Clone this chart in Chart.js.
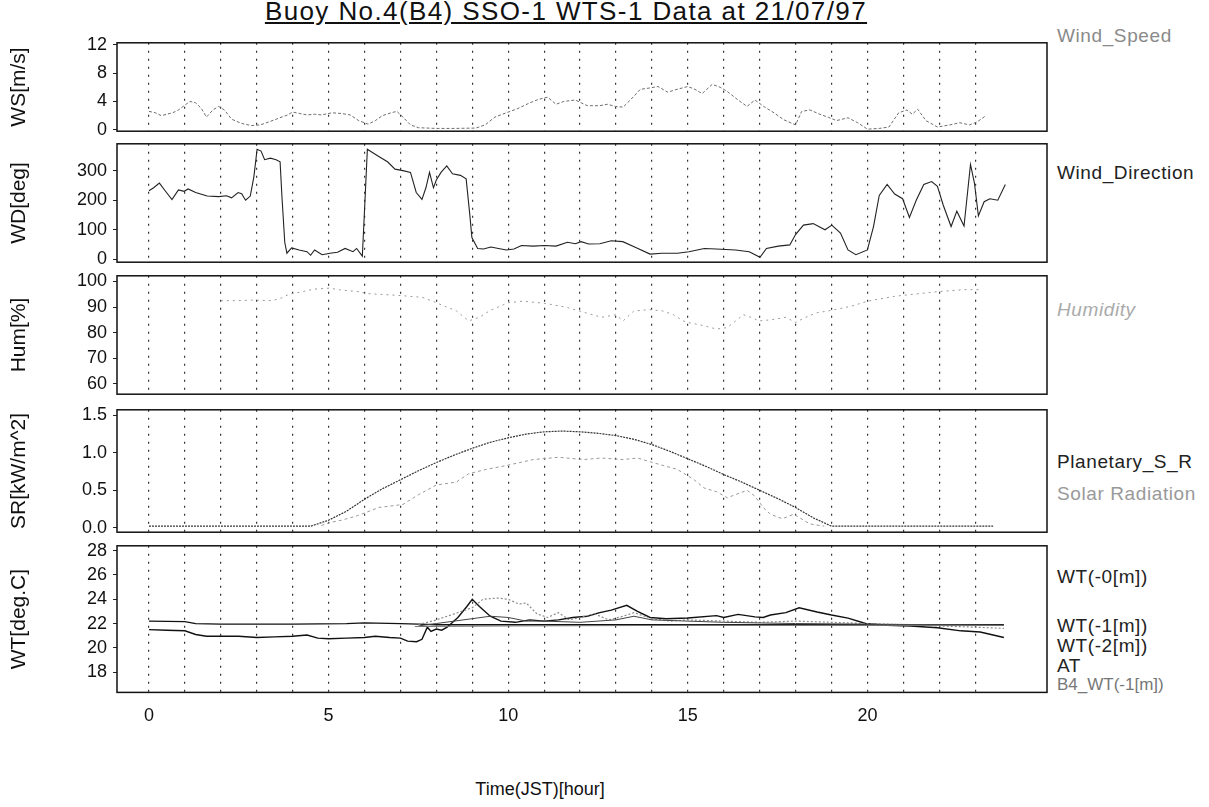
<!DOCTYPE html>
<html lang="en">
<head>
    <meta charset="UTF-8">
    <title>Buoy No.4(B4) SSO-1 WTS-1 Data at 21/07/97</title>
    <script src="https://cdn.jsdelivr.net/npm/chart.js"></script>
    <style>
        body {
            margin: 0;
            background: #fff;
            font-family: 'Liberation Sans', Arial, sans-serif;
        }

        .page {
            position: relative;
            width: 1209px;
            height: 807px;
            overflow: hidden;
        }

        .page canvas {
            position: absolute;
            left: 0;
        }

        /* Title + axis caption */
        .title {
            position: absolute;
            left: 0;
            top: -4px;
            width: 1132px;
            text-align: center;
            font-size: 26px;
            letter-spacing: 1.4px;
            text-decoration: underline;
            color: #111;
        }

        .xtitle {
            position: absolute;
            left: 440px;
            width: 200px;
            top: 779px;
            text-align: center;
            font-size: 18px;
            color: #111;
        }

        /* Series names at the right of each panel */
        .side {
            position: absolute;
            left: 1057px;
            font-size: 19px;
            letter-spacing: 0.6px;
            line-height: 22px;
            color: #222;
            white-space: nowrap;
        }
    </style>
</head>

<body>
<div class="page" id="page">
    <div class="title">Buoy No.4(B4) SSO-1 WTS-1 Data at 21/07/97</div>

    <div class="side" style="top:25px; color:#8a8a8a;">Wind_Speed</div>
    <div class="side" style="top:162px;">Wind_Direction</div>
    <div class="side" style="top:299px; color:#aaa; font-style:italic;">Humidity</div>
    <div class="side" style="top:451px;">Planetary_S_R</div>
    <div class="side" style="top:483px; color:#999;">Solar Radiation</div>
    <div class="side" style="top:566px;">WT(-0[m])</div>
    <div class="side" style="top:615px;">WT(-1[m])</div>
    <div class="side" style="top:635px;">WT(-2[m])</div>
    <div class="side" style="top:655px;">AT</div>
    <div class="side" style="top:674px; color:#777; font-size:17px; letter-spacing:0;">B4_WT(-1[m])</div>

    <div class="xtitle">Time(JST)[hour]</div>
</div>

<script>
    // Shared time axis
    const hourTicks = [0, 1, 2, 3, 4, 5, 6, 7, 8, 9, 10, 11, 12, 13, 14, 15, 16, 17, 18, 19, 20, 21, 22, 23];
    const xLabels = [0, 5, 10, 15, 20];

    // Wind speed [m/s]
    const wsHours = [0, 0.18, 0.34, 0.5, 0.66, 0.82, 0.98, 1.14, 1.3, 1.46, 1.6, 1.78, 1.94, 2.1, 2.3, 2.58, 2.85, 3.1, 3.33, 3.54, 3.86, 4.0, 4.2, 4.4, 4.6, 4.8, 5.1, 5.36, 5.6, 5.84, 6.1, 6.3, 6.5, 6.74, 6.9, 7.07, 7.28, 7.5, 8.0, 8.5, 9.1, 9.36, 9.63, 9.95, 10.27, 10.6, 10.85, 11.1, 11.33, 11.55, 11.87, 12.2, 12.55, 12.76, 12.98, 13.2, 13.4, 13.68, 13.95, 14.17, 14.44, 14.7, 15.0, 15.2, 15.4, 15.68, 15.9, 16.1, 16.4, 16.65, 16.87, 17.14, 17.4, 17.68, 18.0, 18.17, 18.4, 18.65, 18.92, 19.14, 19.46, 19.73, 20.0, 20.33, 20.6, 20.87, 21.1, 21.25, 21.4, 21.63, 21.95, 22.3, 22.57, 22.84, 23.05, 23.3];
    const wsValues = [2.6, 2.4, 2.0, 2.2, 2.4, 2.8, 3.4, 4.0, 3.8, 3.0, 1.8, 2.8, 3.3, 2.8, 1.5, 0.9, 0.6, 0.7, 1.1, 1.5, 2.1, 2.5, 2.3, 2.1, 2.2, 2.1, 2.4, 2.3, 2.1, 1.3, 0.8, 1.3, 2.0, 2.4, 2.6, 1.8, 0.7, 0.3, 0.2, 0.2, 0.25, 0.7, 1.8, 2.4, 3.0, 3.8, 4.3, 4.6, 3.6, 4.0, 4.2, 3.4, 3.4, 3.6, 3.3, 3.2, 4.2, 5.7, 5.9, 6.1, 5.3, 5.7, 6.1, 5.7, 5.1, 6.4, 6.0, 5.4, 4.2, 3.3, 4.2, 3.2, 2.4, 1.4, 0.7, 2.6, 2.8, 2.25, 1.75, 1.3, 1.7, 1.0, 0.1, 0.2, 0.4, 2.4, 2.8, 2.2, 2.9, 1.3, 0.4, 0.7, 1.0, 0.7, 1.1, 2.0];

    // Wind direction [deg]
    const wdHours = [0, 0.13, 0.29, 0.45, 0.64, 0.82, 0.98, 1.09, 1.3, 1.62, 1.94, 2.16, 2.3, 2.48, 2.58, 2.69, 2.82, 2.92, 3.01, 3.12, 3.22, 3.38, 3.54, 3.65, 3.7, 3.78, 3.84, 3.97, 4.18, 4.4, 4.5, 4.61, 4.82, 5.04, 5.25, 5.46, 5.68, 5.78, 5.94, 6.02, 6.08, 6.21, 6.42, 6.64, 6.85, 7.07, 7.28, 7.44, 7.6, 7.71, 7.81, 7.92, 8.0, 8.13, 8.29, 8.45, 8.67, 8.83, 8.93, 8.99, 9.15, 9.31, 9.52, 9.73, 9.95, 10.16, 10.37, 10.69, 11.01, 11.33, 11.65, 11.87, 12.03, 12.24, 12.55, 12.87, 13.19, 13.52, 13.95, 14.28, 14.71, 15.03, 15.46, 15.79, 16.33, 16.71, 17.01, 17.19, 17.52, 17.84, 18.0, 18.22, 18.49, 18.82, 19.01, 19.25, 19.46, 19.68, 20.0, 20.17, 20.33, 20.55, 20.76, 20.98, 21.17, 21.36, 21.57, 21.79, 21.95, 22.11, 22.33, 22.49, 22.69, 22.87, 22.98, 23.09, 23.25, 23.41, 23.63, 23.84];
    const wdValues = [232, 242, 258, 232, 202, 235, 230, 238, 226, 214, 212, 215, 208, 226, 222, 200, 214, 279, 372, 366, 337, 342, 337, 330, 216, 58, 21, 39, 32, 26, 14, 32, 16, 21, 24, 37, 26, 37, 11, 216, 372, 362, 346, 330, 305, 300, 294, 226, 203, 242, 294, 242, 268, 294, 316, 289, 284, 272, 153, 74, 37, 35, 42, 37, 32, 35, 47, 45, 47, 45, 58, 53, 60, 52, 53, 63, 60, 42, 18, 21, 21, 26, 37, 35, 32, 26, 7, 37, 45, 49, 84, 116, 121, 100, 116, 89, 32, 16, 32, 111, 216, 253, 221, 205, 142, 200, 253, 263, 247, 184, 111, 163, 113, 321, 258, 147, 195, 205, 200, 253];

    // Humidity [%]
    const humHours = [2.0, 2.5, 2.85, 3.44, 3.7, 3.9, 4.1, 4.6, 5.04, 5.25, 5.84, 6.05, 6.4, 7.0, 7.6, 7.9, 8.2, 8.56, 8.9, 9.2, 9.5, 10.0, 10.4, 11.0, 11.6, 12.1, 12.6, 13.0, 13.2, 13.5, 13.95, 14.3, 14.6, 14.87, 15.0, 15.46, 15.8, 16.1, 16.55, 16.76, 16.98, 17.3, 17.73, 18.0, 18.28, 18.6, 18.92, 19.57, 20.0, 20.76, 21.2, 21.95, 22.7, 23.2];
    const humValues = [92.5, 92.5, 92.7, 92.5, 93.6, 95, 95.5, 97, 97.4, 96.8, 96, 95.3, 95, 94.5, 93.8, 92.3, 90.5, 88.5, 84.6, 86, 88.7, 91.7, 92.3, 91.5, 90, 88, 86, 87, 84.6, 88.5, 89, 88.5, 87, 84.6, 84, 82.7, 81.4, 82, 87, 86, 84.6, 85, 86, 84, 86, 87.8, 88.5, 90.4, 92.3, 94.2, 94.9, 96, 96.8, 96.8];

    // Planetary solar radiation and measured solar radiation [kW/m^2]
    const psrHours = [0, 4.5, 5.0, 5.5, 6.0, 6.5, 7.0, 7.5, 8.0, 8.5, 9.0, 9.5, 10.0, 10.5, 11.0, 11.5, 12.0, 12.5, 13.0, 13.5, 14.0, 14.5, 15.0, 15.5, 16.0, 16.5, 17.0, 17.5, 18.0, 18.5, 19.0, 23.5];
    const psrValues = [0.02, 0.02, 0.1, 0.22, 0.38, 0.52, 0.64, 0.76, 0.87, 0.97, 1.06, 1.14, 1.2, 1.25, 1.28, 1.29, 1.28, 1.26, 1.23, 1.18, 1.11, 1.02, 0.92, 0.82, 0.71, 0.61, 0.5, 0.39, 0.27, 0.13, 0.02, 0.02];
    const srHours = [4.8, 5.04, 5.36, 5.8, 6.4, 7.07, 7.5, 8.0, 8.56, 8.9, 9.4, 9.95, 10.7, 11.4, 12.1, 12.6, 13.2, 13.6, 14.17, 14.7, 15.15, 15.46, 15.8, 16.1, 16.65, 16.87, 17.1, 17.3, 17.63, 17.95, 18.4, 18.8];
    const srValues = [0.03, 0.07, 0.1, 0.16, 0.27, 0.31, 0.44, 0.57, 0.61, 0.72, 0.78, 0.83, 0.91, 0.94, 0.91, 0.93, 0.91, 0.93, 0.85, 0.78, 0.65, 0.53, 0.48, 0.4, 0.5, 0.42, 0.27, 0.18, 0.12, 0.18, 0.05, 0.02];

    // Water / air temperature [deg.C]
    const atHours = [0, 0.5, 1.0, 1.3, 1.6, 2.0, 2.5, 3.0, 3.5, 4.0, 4.4, 4.7, 5.0, 5.5, 6.0, 6.3, 6.7, 7.0, 7.2, 7.45, 7.6, 7.75, 7.85, 8.0, 8.15, 8.3, 8.6, 8.85, 9.0, 9.2, 9.5, 9.8, 10.2, 10.6, 11.0, 11.4, 11.8, 12.2, 12.55, 12.87, 13.3, 13.6, 13.95, 14.4, 15.0, 15.8, 16.0, 16.4, 16.87, 17.1, 17.3, 17.73, 18.1, 18.6, 19.0, 19.46, 19.95, 20.55, 21.2, 21.95, 22.6, 23.14, 23.8];
    const atValues = [21.5, 21.45, 21.4, 21.1, 20.95, 20.95, 20.95, 20.85, 20.9, 20.95, 21.05, 20.8, 20.75, 20.8, 20.85, 20.95, 20.85, 20.8, 20.55, 20.5, 20.7, 21.7, 21.35, 21.55, 21.45, 21.7, 22.5, 23.4, 24.0, 23.4, 22.6, 22.2, 22.1, 22.3, 22.2, 22.3, 22.5, 22.6, 22.9, 23.1, 23.5, 23.0, 22.5, 22.4, 22.45, 22.65, 22.5, 22.75, 22.55, 22.5, 22.7, 22.9, 23.3, 22.95, 22.7, 22.45, 22.0, 21.85, 21.8, 21.65, 21.4, 21.3, 20.85];
    const wt1Hours = [0, 1.0, 1.3, 2.0, 4.0, 5.5, 6.0, 7.0, 7.5, 8.0, 12.0, 16.0, 20.0, 23.8];
    const wt1Values = [22.2, 22.15, 22.0, 21.95, 21.95, 22.0, 22.05, 22.0, 21.95, 21.9, 21.9, 21.9, 21.9, 21.9];
    const wt0Hours = [7.5, 8.0, 8.5, 9.0, 9.3, 9.7, 10.0, 10.3, 10.5, 10.8, 11.1, 11.4, 11.7, 12.0, 12.4, 12.8, 13.2, 13.5, 14.0, 14.5, 15.0, 16.0, 17.0, 18.0, 19.0, 20.0, 21.0, 22.0, 23.0, 23.8];
    const wt0Values = [21.9, 22.3, 22.8, 23.3, 24.0, 24.1, 24.0, 23.6, 23.7, 22.8, 22.5, 22.9, 22.3, 22.5, 22.8, 22.3, 22.6, 22.9, 22.4, 22.2, 22.3, 22.2, 22.1, 22.2, 22.1, 22.0, 21.9, 21.8, 21.7, 21.6];
    const wt2Hours = [7.5, 8.0, 8.5, 9.0, 9.5, 10.0, 10.5, 11.0, 12.0, 13.0, 13.5, 14.0, 15.0, 16.0, 18.0, 20.0, 22.0, 23.8];
    const wt2Values = [21.8, 22.0, 22.2, 22.4, 22.6, 22.5, 22.2, 22.2, 22.1, 22.3, 22.6, 22.3, 22.2, 22.1, 22.0, 21.95, 21.9, 21.85];
    const b4Hours = [7.4, 10.0, 15.0, 20.0, 23.8];
    const b4Values = [21.75, 21.8, 21.85, 21.85, 21.85];

    const pts = (xs, ys) => xs.map((x, i) => ({ x: x, y: ys[i] }));

    // Box around every panel
    const frame = {
        id: 'frame',
        afterDatasetsDraw(chart) {
            const { ctx, chartArea: a } = chart;
            ctx.save();
            ctx.setLineDash([]);
            ctx.strokeStyle = '#111';
            ctx.lineWidth = 1.5;
            ctx.strokeRect(a.left, a.top, a.right - a.left, a.bottom - a.top);
            ctx.restore();
        }
    };

    const page = document.getElementById('page');
    const FAMILY = "'Liberation Sans', Arial, sans-serif";
    const TICK_FONT = { family: FAMILY, size: 18 };
    const TITLE_FONT = { family: FAMILY, size: 21 };

    function makePanel(cfg) {
        const pad = 12;
        const extra = cfg.showX ? 47 : 0;   // room for the hour labels on the last panel
        const canvas = document.createElement('canvas');
        canvas.width = 1209;
        canvas.height = cfg.bottom - cfg.top + 2 * pad + extra;
        canvas.style.top = (cfg.top - pad) + 'px';
        page.appendChild(canvas);

        return new Chart(canvas, {
            type: 'line',
            data: { datasets: cfg.datasets },
            options: {
                responsive: false,
                animation: false,
                devicePixelRatio: 1,
                layout: { padding: { left: 0, right: 162, top: pad, bottom: pad } },
                plugins: { legend: { display: false }, tooltip: { enabled: false } },
                elements: { point: { radius: 0 }, line: { tension: 0, fill: false } },
                scales: {
                    x: {
                        type: 'linear',
                        min: -0.89,
                        max: 25.0,
                        afterBuildTicks: s => { s.ticks = hourTicks.map(v => ({ value: v })); },
                        grid: { color: '#333', lineWidth: 1.2, drawTicks: false },
                        border: { display: false, dash: [2, 6] },
                        ticks: {
                            display: !!cfg.showX,
                            padding: 13,
                            autoSkip: false,
                            maxRotation: 0,
                            color: '#111',
                            font: TICK_FONT,
                            callback: v => xLabels.includes(v) ? String(v) : ''
                        }
                    },
                    y: {
                        min: cfg.min,
                        max: cfg.max,
                        afterBuildTicks: s => { s.ticks = cfg.ticks.map(v => ({ value: v })); },
                        afterFit: s => { s.width = 117; },
                        grid: { drawOnChartArea: false, tickLength: 4, color: '#222' },
                        border: { display: false },
                        ticks: {
                            padding: 6,
                            color: '#111',
                            font: TICK_FONT,
                            callback: cfg.fmt || (v => String(v))
                        },
                        title: {
                            display: true,
                            text: cfg.label,
                            color: '#111',
                            font: TITLE_FONT,
                            padding: { top: 7, bottom: 0 }
                        }
                    }
                }
            },
            plugins: [frame]
        });
    }

    // Panel 1: wind speed
    makePanel({
        top: 38, bottom: 136, min: -0.19, max: 12.25,
        ticks: [0, 4, 8, 12], label: 'WS[m/s]',
        datasets: [
            { data: pts(wsHours, wsValues), borderColor: '#6e6e6e', borderWidth: 1, borderDash: [3, 2] }
        ]
    });

    // Panel 2: wind direction
    makePanel({
        top: 139, bottom: 267, min: -9.4, max: 390.6,
        ticks: [0, 100, 200, 300], label: 'WD[deg]',
        datasets: [
            { data: pts(wdHours, wdValues), borderColor: '#222', borderWidth: 1.1 }
        ]
    });

    // Panel 3: humidity
    makePanel({
        top: 271, bottom: 399, min: 56.0, max: 102.2,
        ticks: [60, 70, 80, 90, 100], label: 'Hum[%]',
        datasets: [
            { data: pts(humHours, humValues), borderColor: '#9a9a9a', borderWidth: 1, borderDash: [2, 4] }
        ]
    });

    // Panel 4: solar radiation
    makePanel({
        top: 405, bottom: 537, min: -0.06, max: 1.574,
        ticks: [0, 0.5, 1.0, 1.5], label: 'SR[kW/m^2]',
        fmt: v => v.toFixed(1),
        datasets: [
            { data: pts(psrHours, psrValues), borderColor: '#333', borderWidth: 1.2, borderDash: [2, 1] },
            { data: pts(srHours, srValues), borderColor: '#999', borderWidth: 1, borderDash: [3, 3] }
        ]
    });

    // Panel 5: temperatures
    makePanel({
        top: 541, bottom: 693, min: 16.33, max: 28.4,
        ticks: [18, 20, 22, 24, 26, 28], label: 'WT[deg.C]',
        showX: true,
        datasets: [
            { data: pts(b4Hours, b4Values), borderColor: '#777', borderWidth: 1 },
            { data: pts(wt2Hours, wt2Values), borderColor: '#444', borderWidth: 1 },
            { data: pts(wt0Hours, wt0Values), borderColor: '#8a8a8a', borderWidth: 1.2, borderDash: [2, 2] },
            { data: pts(wt1Hours, wt1Values), borderColor: '#111', borderWidth: 1.3 },
            { data: pts(atHours, atValues), borderColor: '#111', borderWidth: 1.4 }
        ]
    });
</script>
</body>
</html>
